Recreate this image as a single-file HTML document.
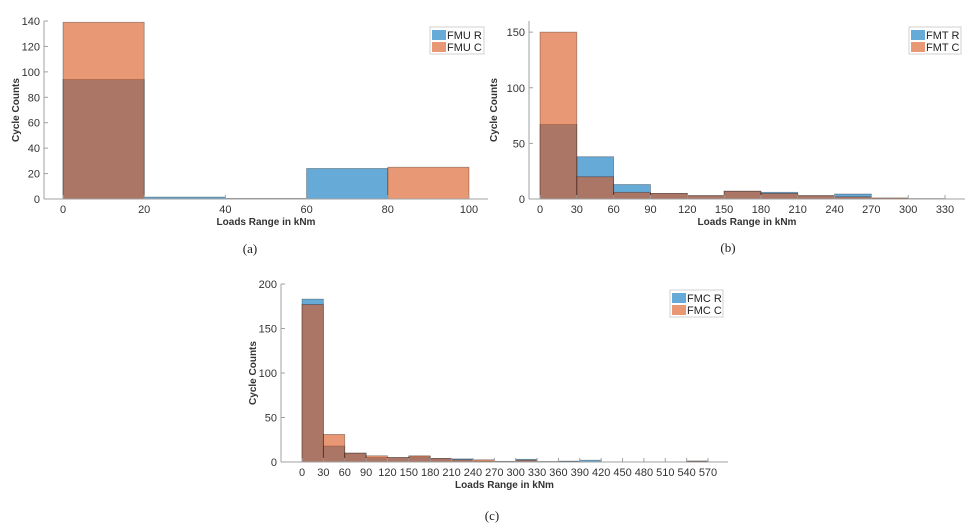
<!DOCTYPE html>
<html><head><meta charset="utf-8"><style>
body{margin:0;background:#fff}
svg{display:block;font-family:"Liberation Sans",sans-serif}
</style></head><body>
<svg id="fig" width="976" height="528" viewBox="0 0 976 528"></svg>
<script>
// Panel (a)
const aEdges=[0,20,40,60,80,100];
const aR=[94,1.5,0.5,24,0];
const aC=[139,0,0,0,25];
const aYTicks=[0,20,40,60,80,100,120,140];
const aXTicks=[0,20,40,60,80,100];
// Panel (b)
const bEdges=[0,30,60,90,120,150,180,210,240,270,300,330];
const bR=[67,38,13,5,3,7,6,3,4.5,0.5,0.3];
const bC=[150,20,6,5,3,7,5,3,2,1,0.3];
const bYTicks=[0,50,100,150];
const bXTicks=[0,30,60,90,120,150,180,210,240,270,300,330];
// Panel (c)
const cEdges=[0,30,60,90,120,150,180,210,240,270,300,330,360,390,420,450,480,510,540,570];
const cR=[183,18,10,5,5,6,4,3.5,1,0.7,3,0.5,1,2,0,0,0,0,1];
const cC=[177,31,10,7,5,7,4,2.5,2.5,0.5,2,0.5,0.5,0,0,0,0,0,1];
const cYTicks=[0,50,100,150,200];
const cXTicks=[0,30,60,90,120,150,180,210,240,270,300,330,360,390,420,450,480,510,540,570];

const NS="http://www.w3.org/2000/svg";
const svg=document.getElementById('fig');
function mk(tag,attrs,parent,text){const e=document.createElementNS(NS,tag);for(const k in attrs)e.setAttribute(k,attrs[k]);if(text!==undefined)e.textContent=text;(parent||svg).appendChild(e);return e;}

function panel(id,g,edges,R,C,yT,xT,names,caption){
  const grp=mk('g',{});
  
  
  const xs=v=>g.x0+(v-edges[0])/(edges[edges.length-1]-edges[0])*(g.x1-g.x0);
  const ys=v=>g.y0-v/g.ymax*(g.y0-g.top);
  const series=[[R,'#0072BD','R'],[C,'#D95319','C']];
  series.forEach(([vals,col,s])=>{
    vals.forEach((v,i)=>{
      if(v<=0)return;
      const r=mk('rect',{x:xs(edges[i]),y:ys(v),width:xs(edges[i+1])-xs(edges[i]),height:g.y0-ys(v),fill:col,'fill-opacity':0.6,stroke:'#000','stroke-opacity':0.35,'stroke-width':0.8},grp);
      
      
    });
  });
  const ya=mk('line',{x1:g.ax,y1:g.top,x2:g.ax,y2:g.y0,stroke:'#a0a0a0','stroke-width':1},grp);
  
  const xa=mk('line',{x1:g.ax,y1:g.y0,x2:g.axr,y2:g.y0,stroke:'#a0a0a0','stroke-width':1},grp);
  
  yT.forEach(t=>{
    mk('line',{x1:g.ax,y1:ys(t),x2:g.ax+4,y2:ys(t),stroke:'#a0a0a0'},grp);
    const tx=mk('text',{x:g.ax-4,y:ys(t)+4,'text-anchor':'end','font-size':11,fill:'#333'},grp,t);
    
  });
  xT.forEach(t=>{
    mk('line',{x1:xs(t),y1:g.y0,x2:xs(t),y2:g.y0-4,stroke:'#a0a0a0'},grp);
    const tx=mk('text',{x:xs(t),y:g.y0+14,'text-anchor':'middle','font-size':11,fill:'#333'},grp,t);
    
  });
  const xl=mk('text',{x:(g.ax+g.axr)/2,y:g.y0+26,'text-anchor':'middle','font-size':10,'font-weight':'bold',fill:'#333'},grp,'Loads Range in kNm');
  
  const yl=mk('text',{x:0,y:0,'text-anchor':'middle','font-size':10,'font-weight':'bold',fill:'#333',transform:`translate(${g.ylx},${(g.top+g.y0)/2}) rotate(-90)`},grp,'Cycle Counts');
  
  const lg=mk('g',{},grp);
  
  mk('rect',{x:g.lx,y:g.ly,width:g.lw,height:27,fill:'#fff',stroke:'#d0d0d0'},lg);
  series.forEach(([v,col,s],k)=>{
    mk('rect',{x:g.lx+2,y:g.ly+3+k*12,width:14,height:10,fill:col,'fill-opacity':0.6},lg);
    const lt=mk('text',{x:g.lx+17,y:g.ly+12+k*12,'font-size':11,fill:'#222'},lg,names+' '+s);
    
  });
  const cp=mk('text',{x:g.capx,y:g.capy,'text-anchor':'middle','font-size':13,'font-family':'"Liberation Serif",serif',fill:'#222'},grp,caption);
  
}
panel('panel-a',{ax:44,axr:488,x0:63,x1:469,top:21,y0:199,ymax:140,ylx:19,lx:430,ly:27,lw:54,capx:250,capy:253},aEdges,aR,aC,aYTicks,aXTicks,'FMU','(a)');
panel('panel-b',{ax:529,axr:965,x0:540,x1:945,top:21,y0:199,ymax:160,ylx:497,lx:909,ly:27,lw:52,capx:728,capy:252},bEdges,bR,bC,bYTicks,bXTicks,'FMT','(b)');
panel('panel-c',{ax:281,axr:728,x0:302,x1:708,top:284,y0:462,ymax:200,ylx:256,lx:670,ly:290,lw:53,capx:492,capy:520},cEdges,cR,cC,cYTicks,cXTicks,'FMC','(c)');
</script>
</body></html>
